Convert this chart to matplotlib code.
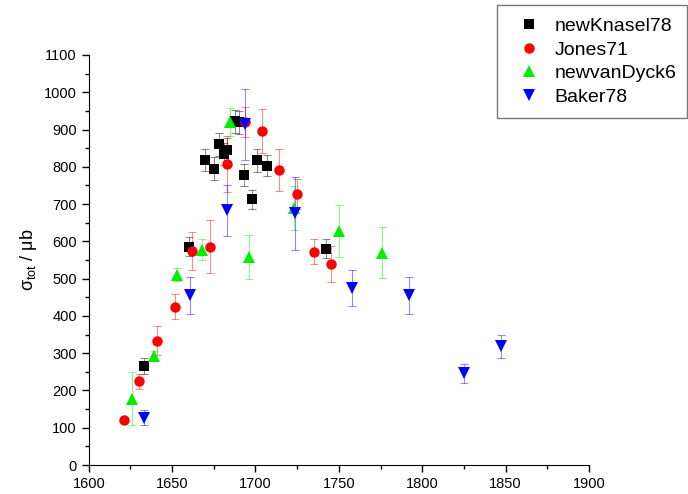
import numpy as np
import matplotlib.pyplot as plt
from matplotlib.ticker import MultipleLocator

plt.rcParams['font.family'] = ['Liberation Sans', 'DejaVu Sans']
plt.rcParams['mathtext.fontset'] = 'custom'
plt.rcParams['mathtext.rm'] = 'Liberation Sans'

# ----------------------------
# Data
# ----------------------------
knasel_x = [1633, 1660, 1670, 1675, 1678, 1681, 1683, 1688, 1690, 1693, 1698, 1701, 1707, 1742]
knasel_y = [266, 586, 818, 795, 860, 835, 846, 922, 919, 778, 713, 817, 803, 580]
knasel_e = [22, 26, 30, 30, 30, 30, 30, 30, 30, 30, 25, 30, 28, 25]

jones_x = [1621, 1630, 1641, 1652, 1662, 1673, 1683, 1694, 1704, 1714, 1725, 1735, 1745]
jones_y = [121, 225, 334, 425, 573, 586, 808, 921, 896, 791, 726, 572, 539]
jones_e = [0, 20, 39, 34, 51, 72, 75, 40, 58, 56, 40, 34, 49]

dyck_x = [1626, 1639, 1653, 1668, 1685, 1696, 1723, 1750, 1776]
dyck_y = [178, 293, 511, 578, 921, 559, 690, 628, 570]
dyck_e = [71, 12, 18, 29, 38, 59, 59, 70, 69]

baker_x = [1633, 1661, 1683, 1694, 1724, 1758, 1792, 1825, 1847]
baker_y = [127, 455, 683, 914, 675, 475, 455, 246, 318]
baker_e = [21, 49, 69, 95, 98, 49, 49, 25, 30]

series = [
    ("newKnasel78", knasel_x, knasel_y, knasel_e, 's', '#000000', 7),
    ("Jones71", jones_x, jones_y, jones_e, 'o', '#ff0000', 7.5),
    ("newvanDyck6", dyck_x, dyck_y, dyck_e, '^', '#00ee00', 8.5),
    ("Baker78", baker_x, baker_y, baker_e, 'v', '#0000ff', 8.5),
]


def main():
    fig = plt.figure(figsize=(6.88, 4.94), dpi=100)
    ax = fig.add_axes([0.129, 0.0587, 0.727, 0.830])

    handles = []
    for label, x, y, e, m, c, ms in series:
        ax.errorbar(x, y, yerr=e, fmt='none', ecolor=c, elinewidth=0.8,
                    capsize=3, capthick=0.8, alpha=0.45, zorder=2)
        h, = ax.plot(x, y, linestyle='none', marker=m, color=c,
                     markersize=ms, markeredgewidth=0, label=label, zorder=3)
        handles.append(h)

    ax.set_xlim(1600, 1900)
    ax.set_ylim(0, 1100)
    ax.xaxis.set_major_locator(MultipleLocator(50))
    ax.xaxis.set_minor_locator(MultipleLocator(25))
    ax.yaxis.set_major_locator(MultipleLocator(100))
    ax.yaxis.set_minor_locator(MultipleLocator(50))
    ax.tick_params(which='both', direction='out', labelsize=10.5, width=1)
    ax.tick_params(which='major', length=5)
    ax.tick_params(which='minor', length=3)
    ax.spines['top'].set_visible(False)
    ax.spines['right'].set_visible(False)
    ax.set_ylabel(r'σ$_{\mathrm{tot}}$ / μb', fontsize=13)

    # legend sits outside the axes, top right of the figure
    leg = fig.legend(handles=handles, loc='upper left',
                     bbox_to_anchor=(0.7224, 0.99, 0.2762, 0.0),
                     mode='expand', borderaxespad=0,
                     fontsize=14, frameon=True, fancybox=False,
                     borderpad=0.65, handletextpad=0.3, labelspacing=0.3,
                     handlelength=2.0)
    leg.get_frame().set_edgecolor('#555555')
    leg.get_frame().set_linewidth(1)

    fig.savefig('out.png', dpi=100)


if __name__ == "__main__":
    main()
